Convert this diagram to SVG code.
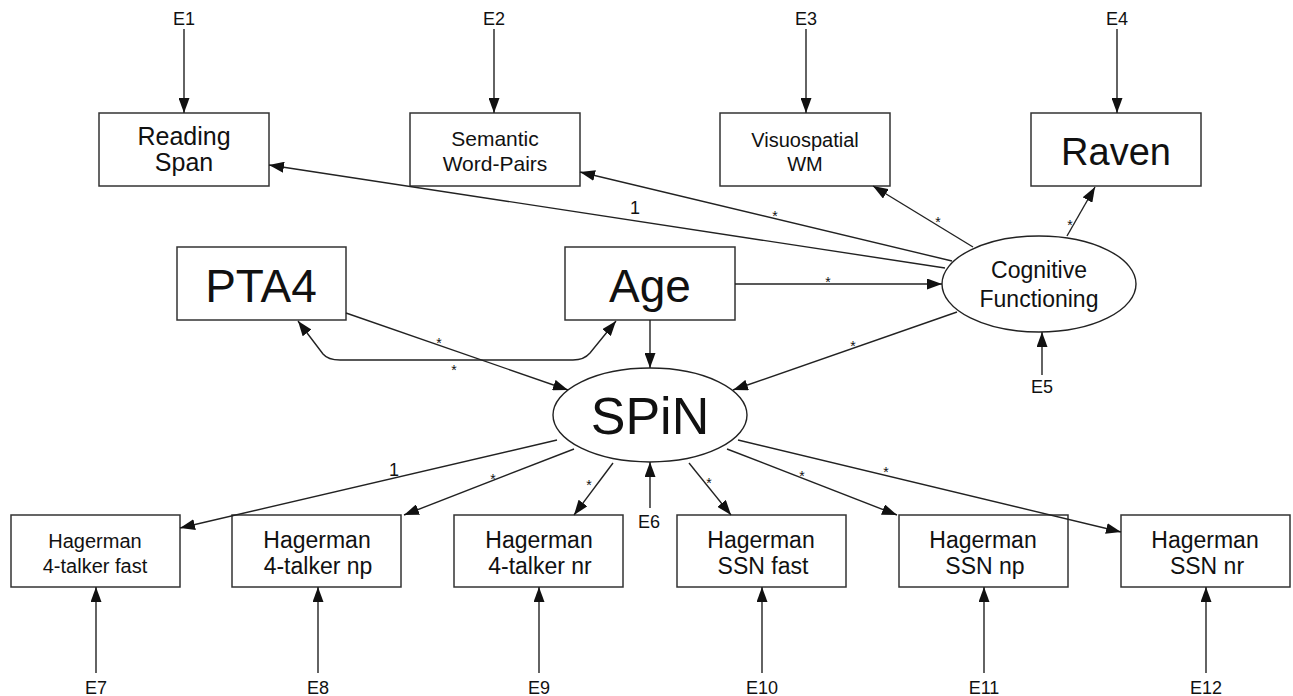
<svg xmlns="http://www.w3.org/2000/svg" width="1293" height="696" viewBox="0 0 1293 696">
<style>
.box{fill:#fff;stroke:#333;stroke-width:1.5}
.lat{fill:#fff;stroke:#222;stroke-width:1.4}
.c{stroke:#222;stroke-width:1.4;fill:none}
text{font-family:"Liberation Sans",Arial,sans-serif;fill:#111;text-anchor:middle}
.e{font-size:18px}
.s{font-size:14px}
.one{font-size:18px}
</style>
<defs>
<marker id="ah" markerUnits="userSpaceOnUse" markerWidth="15" markerHeight="11" refX="15" refY="5.5" orient="auto-start-reverse" viewBox="0 0 15 11">
<path d="M0,0 L15,5.5 L0,11 z" fill="#111"/>
</marker>
</defs>
<rect width="1293" height="696" fill="#fff"/>

<g id="reading-span"><rect class="box" x="99" y="113" width="170" height="73"/><text x="184" y="145" font-size="25">Reading</text><text x="184" y="171" font-size="25">Span</text></g>
<g id="semantic"><rect class="box" x="410" y="113" width="170" height="73"/><text x="495" y="146" font-size="21">Semantic</text><text x="495" y="171" font-size="21">Word-Pairs</text></g>
<g id="visuospatial"><rect class="box" x="720" y="113" width="170" height="73"/><text x="805" y="147" font-size="20">Visuospatial</text><text x="805" y="171" font-size="20">WM</text></g>
<g id="raven"><rect class="box" x="1031" y="113" width="170" height="73"/><text x="1116" y="165" font-size="38">Raven</text></g>

<g id="pta4"><rect class="box" x="177" y="247" width="169" height="73"/><text x="261" y="302" font-size="46">PTA4</text></g>
<g id="age"><rect class="box" x="565" y="247" width="170" height="73"/><text x="650" y="302" font-size="46">Age</text></g>
<g id="cognitive"><ellipse class="lat" cx="1039" cy="284" rx="97" ry="48"/><text x="1039" y="278" font-size="23">Cognitive</text><text x="1039" y="307" font-size="23">Functioning</text></g>
<g id="spin"><ellipse class="lat" cx="650" cy="415" rx="97" ry="47"/><text x="650" y="434" font-size="52">SPiN</text></g>

<g id="h-4t-fast"><rect class="box" x="11" y="515" width="169" height="72"/><text x="95" y="548" font-size="20">Hagerman</text><text x="95" y="573" font-size="20">4-talker fast</text></g>
<g id="h-4t-np"><rect class="box" x="232" y="515" width="169" height="72"/><text x="317" y="548" font-size="23">Hagerman</text><text x="318" y="574" font-size="23">4-talker np</text></g>
<g id="h-4t-nr"><rect class="box" x="454" y="515" width="169" height="72"/><text x="539" y="548" font-size="23">Hagerman</text><text x="540" y="574" font-size="23">4-talker nr</text></g>
<g id="h-ssn-fast"><rect class="box" x="677" y="515" width="169" height="72"/><text x="761" y="548" font-size="23">Hagerman</text><text x="763" y="574" font-size="23">SSN fast</text></g>
<g id="h-ssn-np"><rect class="box" x="899" y="515" width="169" height="72"/><text x="983" y="548" font-size="23">Hagerman</text><text x="985" y="574" font-size="23">SSN np</text></g>
<g id="h-ssn-nr"><rect class="box" x="1121" y="515" width="169" height="72"/><text x="1205" y="548" font-size="23">Hagerman</text><text x="1207" y="574" font-size="23">SSN nr</text></g>

<g id="errors">
<text class="e" x="184" y="25">E1</text>
<text class="e" x="494" y="25">E2</text>
<text class="e" x="806" y="25">E3</text>
<text class="e" x="1117" y="25">E4</text>
<text class="e" x="1042" y="393">E5</text>
<text class="e" x="649" y="528">E6</text>
<text class="e" x="96" y="694">E7</text>
<text class="e" x="318" y="694">E8</text>
<text class="e" x="539" y="694">E9</text>
<text class="e" x="762" y="694">E10</text>
<text class="e" x="984" y="694">E11</text>
<text class="e" x="1206" y="694">E12</text>
</g>

<g id="connectors">
<line class="c" x1="184" y1="29" x2="184" y2="113" marker-end="url(#ah)"/>
<line class="c" x1="494" y1="29" x2="494" y2="113" marker-end="url(#ah)"/>
<line class="c" x1="806" y1="29" x2="806" y2="113" marker-end="url(#ah)"/>
<line class="c" x1="1117" y1="29" x2="1117" y2="113" marker-end="url(#ah)"/>
<line class="c" x1="1042" y1="375" x2="1042" y2="332" marker-end="url(#ah)"/>
<line class="c" x1="650" y1="508" x2="650" y2="462" marker-end="url(#ah)"/>
<line class="c" x1="96" y1="673" x2="96" y2="587" marker-end="url(#ah)"/>
<line class="c" x1="318" y1="673" x2="318" y2="587" marker-end="url(#ah)"/>
<line class="c" x1="539" y1="673" x2="539" y2="587" marker-end="url(#ah)"/>
<line class="c" x1="762" y1="673" x2="762" y2="587" marker-end="url(#ah)"/>
<line class="c" x1="984" y1="673" x2="984" y2="587" marker-end="url(#ah)"/>
<line class="c" x1="1206" y1="673" x2="1206" y2="587" marker-end="url(#ah)"/>

<line class="c" x1="945" y1="268" x2="269" y2="165" marker-end="url(#ah)"/>
<line class="c" x1="952" y1="261" x2="580" y2="172" marker-end="url(#ah)"/>
<line class="c" x1="973" y1="247" x2="873" y2="186" marker-end="url(#ah)"/>
<line class="c" x1="1067" y1="236" x2="1095" y2="187" marker-end="url(#ah)"/>
<line class="c" x1="735" y1="284" x2="942" y2="284" marker-end="url(#ah)"/>
<line class="c" x1="957" y1="312" x2="733" y2="390" marker-end="url(#ah)"/>
<line class="c" x1="650" y1="320" x2="650" y2="368" marker-end="url(#ah)"/>
<line class="c" x1="346" y1="313" x2="568" y2="390" marker-end="url(#ah)"/>
<path class="c" d="M298,321 L323,354 Q328,360 340,360 L573,360 Q584,360 590,353 L616,321" marker-start="url(#ah)" marker-end="url(#ah)"/>

<line class="c" x1="557" y1="440" x2="180" y2="528" marker-end="url(#ah)"/>
<line class="c" x1="574" y1="449" x2="404" y2="515" marker-end="url(#ah)"/>
<line class="c" x1="613" y1="463" x2="574" y2="515" marker-end="url(#ah)"/>
<line class="c" x1="689" y1="463" x2="731" y2="515" marker-end="url(#ah)"/>
<line class="c" x1="727" y1="449" x2="897" y2="515" marker-end="url(#ah)"/>
<line class="c" x1="738" y1="440" x2="1121" y2="532" marker-end="url(#ah)"/>

<text class="one" x="635" y="214">1</text>
<text class="s" x="775" y="221">*</text>
<text class="s" x="938" y="227">*</text>
<text class="s" x="1070" y="230">*</text>
<text class="s" x="828" y="287">*</text>
<text class="s" x="853" y="351">*</text>
<text class="s" x="439" y="348">*</text>
<text class="s" x="454" y="375">*</text>
<text class="one" x="394" y="476">1</text>
<text class="s" x="493" y="484">*</text>
<text class="s" x="589" y="490">*</text>
<text class="s" x="709" y="488">*</text>
<text class="s" x="802" y="481">*</text>
<text class="s" x="886" y="477">*</text>
</g>
</svg>
